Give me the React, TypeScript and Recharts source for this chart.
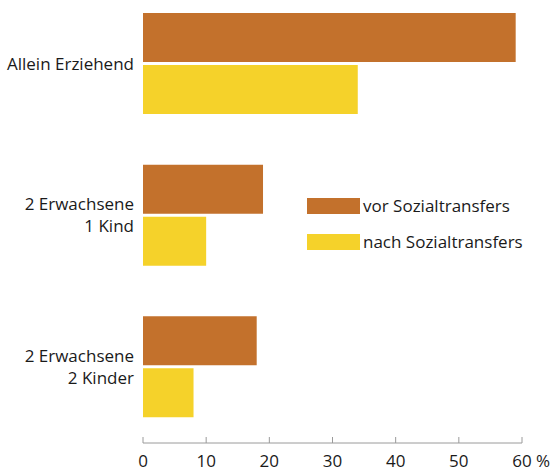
import React from 'react'
import { Bar, BarChart, Legend, XAxis, YAxis } from 'recharts'

const categories = ['Allein Erziehend', '2 Erwachsene\n1 Kind', '2 Erwachsene\n2 Kinder']
const vorValues = [59, 19, 18]
const nachValues = [34, 10, 8]
const xTicks = [0, 10, 20, 30, 40, 50, 60]
const seriesNames = ['vor Sozialtransfers', 'nach Sozialtransfers']
const colors = ['#C3712C', '#F5D22A']

const data = categories.map((name, i) => ({ name, vor: vorValues[i], nach: nachValues[i] }))

const FONT = '"Open Sans", sans-serif'
const FS = 17
const TEXT = '#1a1a1a'

function XTick({ x, y, payload }: any) {
  const isLast = payload.value === xTicks[xTicks.length - 1]
  return (
    <g>
      <line x1={x} x2={x} y1={y} y2={y - 6} stroke="#9a9a9a" />
      <text x={x} y={y + 24} textAnchor="middle" fontSize={FS} fill={TEXT} fontFamily={FONT}>
        {payload.value}
      </text>
      {isLast && (
        <text x={x + 14} y={y + 24} textAnchor="start" fontSize={FS} fill={TEXT} fontFamily={FONT}>
          %
        </text>
      )}
    </g>
  )
}

function YTick({ x, y, payload }: any) {
  const lines = String(payload.value).split('\n')
  const start = y - ((lines.length - 1) * 22) / 2
  return (
    <text x={x} textAnchor="end" fontSize={FS} fill={TEXT} fontFamily={FONT}>
      {lines.map((l, i) => (
        <tspan key={i} x={x} y={start + i * 22} dy="0.35em">{l}</tspan>
      ))}
    </text>
  )
}

function LegendBox() {
  return (
    <div style={{ fontFamily: FONT, fontSize: FS, color: TEXT }}>
      {seriesNames.map((n, i) => (
        <div key={n} style={{ display: 'flex', alignItems: 'center', height: 16, marginBottom: i === 0 ? 20 : 0 }}>
          <div style={{ width: 53, height: 16, background: colors[i], marginRight: 3 }} />
          <span style={{ lineHeight: '16px', whiteSpace: 'nowrap' }}>{n}</span>
        </div>
      ))}
    </div>
  )
}

export default function App() {
  return (
    <div style={{ position: 'absolute', left: 0, top: -12, width: 555, height: 484, background: '#fff' }}>
      <BarChart
        layout="vertical"
        width={555}
        height={484}
        data={data}
        margin={{ top: 0, right: 33, bottom: 0, left: 0 }}
        barSize={49}
        barGap={3}
      >
        <XAxis
          type="number"
          domain={[0, 60]}
          ticks={xTicks}
          tick={<XTick />}
          tickSize={0}
          tickMargin={0}
          tickLine={false}
          axisLine={{ stroke: '#9a9a9a' }}
          height={29}
          interval={0}
        />
        <YAxis
          type="category"
          dataKey="name"
          width={143}
          tick={<YTick />}
          tickSize={0}
          tickMargin={9}
          tickLine={false}
          axisLine={false}
          interval={0}
        />
        <Legend
          content={<LegendBox />}
          layout="horizontal"
          verticalAlign="middle"
          align="center"
          wrapperStyle={{ left: 307, top: 210, width: 245 }}
        />
        <Bar dataKey="vor" name={seriesNames[0]} fill={colors[0]} isAnimationActive={false} />
        <Bar dataKey="nach" name={seriesNames[1]} fill={colors[1]} isAnimationActive={false} />
      </BarChart>
    </div>
  )
}
